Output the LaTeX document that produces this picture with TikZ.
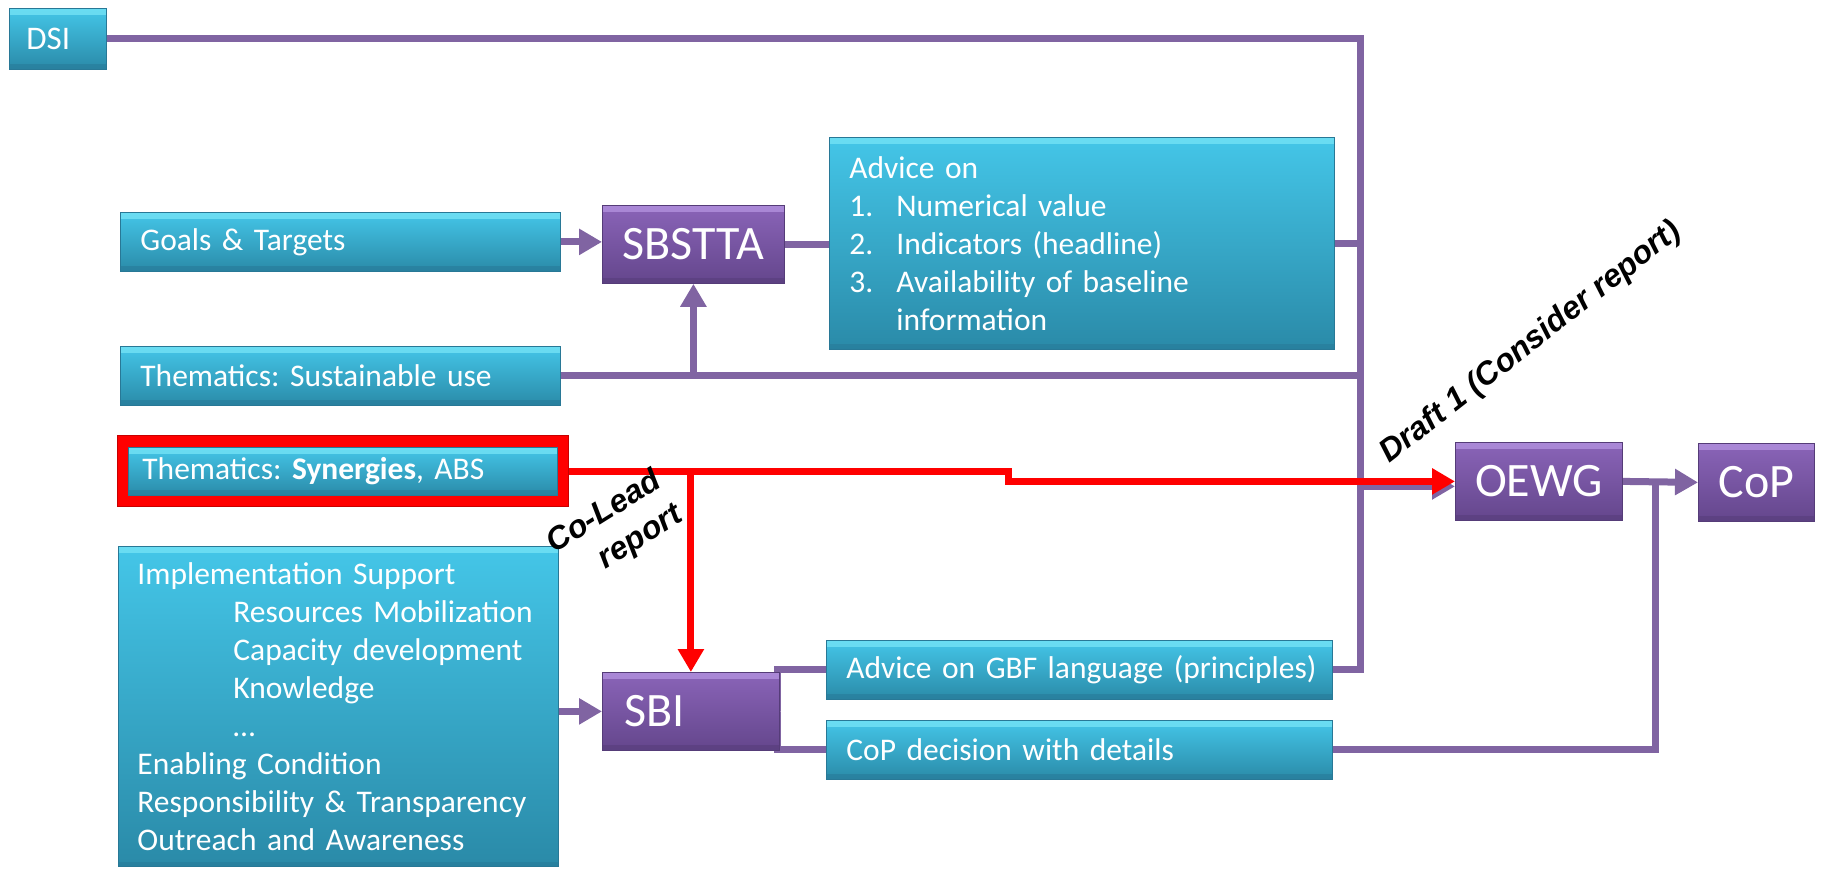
\documentclass[tikz,border=0pt]{standalone}
\usepackage{fontspec}
\setmainfont{Carlito}
\newfontfamily\lblfont{Liberation Sans}
\usetikzlibrary{arrows.meta}
\pgfdeclarelayer{bglines}
\pgfsetlayers{bglines,main}
\definecolor{cyT}{RGB}{68,198,232}
\definecolor{cyB}{RGB}{42,138,168}
\definecolor{cyHi}{RGB}{115,226,245}
\definecolor{cyEdge}{RGB}{40,120,150}
\definecolor{puT}{RGB}{138,100,184}
\definecolor{puB}{RGB}{100,70,140}
\definecolor{puHi}{RGB}{178,145,222}
\definecolor{puEdge}{RGB}{85,60,120}
\definecolor{lnP}{RGB}{128,100,162}
\definecolor{redL}{RGB}{255,0,0}
\begin{document}
\begin{tikzpicture}[x=1pt,y=-1pt,
  base/.style={rectangle, inner ysep=0pt, text=white, anchor=north west},
  cbox/.style={base, top color=cyT, bottom color=cyB, draw=cyEdge, line width=0.8pt,
    font=\frenchspacing\fontsize{31.5}{38}\selectfont, align=left, inner xsep=20pt,
    path picture={\fill[cyHi,opacity=0.8] (path picture bounding box.north west) rectangle ([yshift=-7pt]path picture bounding box.north east);
                  \fill[cyEdge,opacity=0.5] (path picture bounding box.south west) rectangle ([yshift=5pt]path picture bounding box.south east);}},
  pbox/.style={base, top color=puT, bottom color=puB, draw=puEdge, line width=0.8pt,
    font=\fontsize{48}{56}\selectfont, align=center,
    path picture={\fill[puHi,opacity=0.8] (path picture bounding box.north west) rectangle ([yshift=-7pt]path picture bounding box.north east);
                  \fill[puEdge,opacity=0.5] (path picture bounding box.south west) rectangle ([yshift=5pt]path picture bounding box.south east);}},
  redbox/.style={base, fill=redL, draw={rgb,255:red,200;green,0;blue,0}, line width=1pt},
  conn/.style={draw=lnP, line width=7pt},
  arr/.style={-{Triangle[length=23pt,width=25pt]}},
  redc/.style={draw=redL, line width=7pt},
  lbl/.style={font=\lblfont\bfseries\itshape\fontsize{32}{40}\selectfont, text=black, inner sep=0pt}
]
\useasboundingbox (0,0) rectangle (1821,872);
\begin{pgfonlayer}{bglines}
\fill[white] (0,0) rectangle (1821,872);
\end{pgfonlayer}

% ---------- boxes ----------
\node[cbox, minimum width=97pt, minimum height=61pt, text width=63pt, inner xsep=17pt,
      font=\fontsize{33}{38}\selectfont] (dsi) at (9,8) {DSI};
\node[cbox, minimum width=440pt, minimum height=59pt, text width=400pt] (goals) at (120,212) {\mbox{Goals \& Targets}};
\node[cbox, minimum width=440pt, minimum height=59pt, text width=400pt] (su) at (120,346) {\mbox{Thematics: Sustainable use}};
\node[pbox, minimum width=182pt, minimum height=78pt] (sbstta) at (602,205) {SBSTTA};
\node[cbox, minimum width=505pt, minimum height=212pt, text width=465pt] (adv) at (829,137)
  {Advice on\\
   \makebox[47pt][l]{1.}Numerical value\\
   \makebox[47pt][l]{2.}Indicators (headline)\\
   \makebox[47pt][l]{3.}Availability of baseline\\
   \hspace*{47pt}information};
\node[redbox, minimum width=451pt, minimum height=71pt] (synr) at (117,435) {};
\node[cbox, minimum width=429pt, minimum height=48pt, text width=401pt, inner xsep=14pt] (syn) at (128,447)
  {\mbox{Thematics: \textbf{Synergies}, ABS}};
\node[cbox, minimum width=440pt, text width=402pt, inner xsep=19pt, inner ysep=16pt] (impl) at (118,546)
  {Implementation Support\\
   \hspace*{96pt}Resources Mobilization\\
   \hspace*{96pt}Capacity development\\
   \hspace*{96pt}Knowledge\\
   \hspace*{96pt}\dots\\
   Enabling Condition\\
   Responsibility \& Transparency\\
   Outreach and Awareness};
\node[pbox, minimum width=177pt, minimum height=78pt, text width=133pt, inner xsep=22pt, align=left] (sbi) at (602,672) {SBI};
\node[cbox, minimum width=506pt, minimum height=59pt, text width=466pt] (gbf) at (826,640) {\mbox{Advice on GBF language (principles)}};
\node[cbox, minimum width=506pt, minimum height=59pt, text width=466pt] (cdec) at (826,720) {\mbox{CoP decision with details}};
\node[pbox, minimum width=167pt, minimum height=78pt] (oewg) at (1455,442) {OEWG};
\node[pbox, minimum width=116pt, minimum height=78pt] (cop) at (1698,443) {CoP};

% ---------- junction coordinates ----------
\coordinate (vx) at (1360,0);
\coordinate (sx) at (777,0);
\coordinate (cx) at (1655,0);
\coordinate (stepx) at (1008,0);

\begin{pgfonlayer}{bglines}
% ---------- purple connectors ----------
\draw[conn] (dsi.east) -- (dsi.east -| vx) -- (gbf.east -| vx) -- (gbf.east);
\draw[conn] (adv.east) -- (adv.east -| vx);
\draw[conn] (su.east) -- (su.east -| vx);
\draw[conn, arr] (su.east -| sbstta.south) -- (sbstta.south);
\draw[conn, arr] (goals.east) -- (goals.east -| sbstta.west);
\draw[conn] (sbstta.east) -- (sbstta.east -| adv.west);
\draw[conn, arr] ([yshift=-5pt]oewg.west -| vx) -- ([yshift=-5pt]oewg.west);
\draw[conn, arr] (impl.east |- sbi.west) -- (sbi.west);
\draw[conn] (sbi.east) -- (sbi.east -| sx) |- (gbf.west);
\draw[conn] (sbi.east) -- (sbi.east -| sx) |- (cdec.west);
\draw[conn] (cdec.east) -- (cdec.east -| cx) -- (oewg.east -| cx);
\draw[conn, arr] (oewg.east) -- (cop.west);
% ---------- red connectors ----------
\draw[redc] (synr.east) -- (synr.east -| stepx) -- (oewg.west -| stepx) -- ([xshift=-20pt]oewg.west);
\draw[redc, arr] ([xshift=-30pt]oewg.west) -- (oewg.west);
\draw[redc, arr] (synr.east -| sbi.north) -- (sbi.north);
\end{pgfonlayer}

% ---------- labels ----------
\node[lbl, rotate=38] (draft) at (1531,343) {Draft 1 (Consider report)};
\node[lbl, rotate=32, align=right] (colead) at (615,530) {Co-Lead\\report};
\end{tikzpicture}
\end{document}
